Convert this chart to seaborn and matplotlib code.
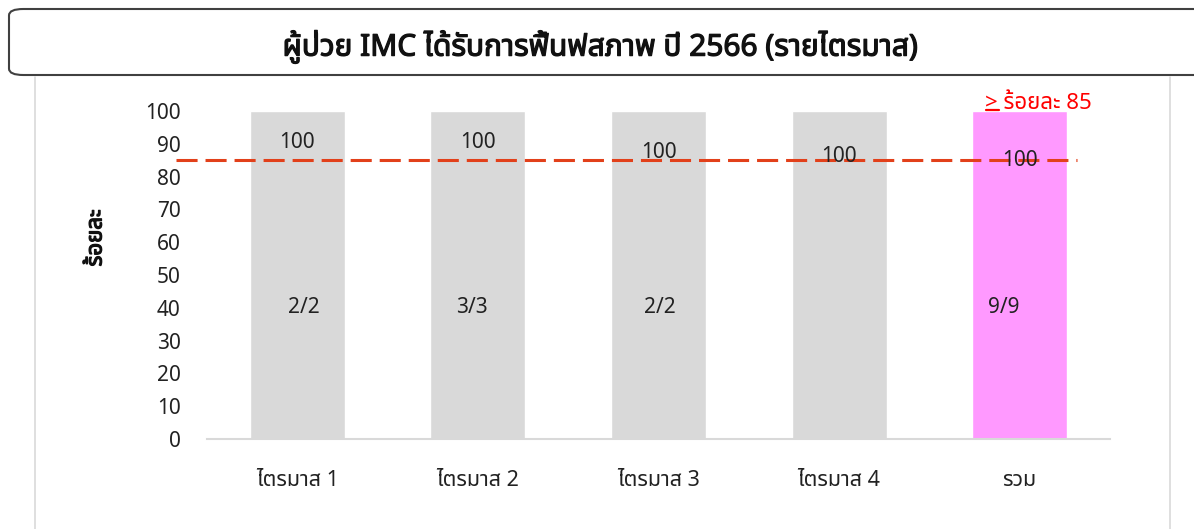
import matplotlib
matplotlib.use("Agg")
import matplotlib.pyplot as plt
import matplotlib.patheffects as pe
import seaborn as sns
import pandas as pd
from matplotlib import font_manager
from matplotlib.patches import FancyBboxPatch
from matplotlib.lines import Line2D
from fontTools.ttLib import TTFont

# ค่าข้อมูล
categories = ["ไตรมาส 1", "ไตรมาส 2", "ไตรมาส 3", "ไตรมาส 4", "รวม"]
percent = [100, 100, 100, 100, 100]
fractions = ["2/2", "3/3", "2/2", "", "9/9"]
target = 85
yticks = list(range(0, 101, 10))

# หาฟอนต์ที่มีอักษรไทย
thai_fonts = []
for f in font_manager.fontManager.ttflist:
    try:
        cmap = TTFont(f.fname, fontNumber=0, lazy=True).getBestCmap()
        if 0x0E01 in cmap and f.name not in thai_fonts:
            thai_fonts.append(f.name)
    except Exception:
        pass

preferred = ["Noto Sans Thai", "Noto Sans Thai UI", "IBM Plex Sans Thai", "Anuphan"]
chosen = [p for p in preferred if p in thai_fonts][:1] or thai_fonts[:1]

sns.set_theme(style="white")
plt.rcParams["font.family"] = chosen + ["DejaVu Sans"]

df = pd.DataFrame({"cat": categories, "pct": percent})

W, H = 1194, 529
fig = plt.figure(figsize=(W / 100, H / 100), dpi=100)
ax = fig.add_axes([207 / W, 1 - 439 / H, (1110 - 207) / W, (439 - 111) / H])

colors = ["#D9D9D9"] * 4 + ["#FF99FF"]
sns.barplot(data=df, x="cat", y="pct", hue="cat", palette=colors, legend=False,
            width=0.525, ax=ax, saturation=1)
ax.set_ylim(0, 100)
ax.set_xlim(-0.5, 4.5)
ax.set_yticks(yticks)
ax.tick_params(axis="y", labelsize=15, colors="#222222", length=0, pad=19)
ax.tick_params(axis="x", labelsize=15.5, colors="#222222", length=0, pad=22)
ax.set_xlabel("")
ax.set_ylabel("")
for s in ["top", "right", "left"]:
    ax.spines[s].set_visible(False)
ax.spines["bottom"].set_color("#D9D9D9")
ax.spines["bottom"].set_linewidth(1.5)

bold = [pe.withStroke(linewidth=0.9, foreground="#111111")]
fig.text(96 / W, 1 - 238 / H, "ร้อยละ", rotation=90, ha="center", va="center",
         fontsize=16, color="#111111", path_effects=bold)

# เส้นเป้าหมาย
ax.plot([-0.67, 4.32], [target, target], color="#E2401A", lw=2.2,
        dashes=(6.9, 2.6), clip_on=False, zorder=5)

label_y = [90.5, 90.5, 87.3, 86.0, 85.0]
frac_dx = [0.035, -0.035, 0.01, 0, -0.09]
for i, (v, fr) in enumerate(zip(percent, fractions)):
    ax.text(i, label_y[i], str(v), ha="center", va="center", fontsize=15, color="#222222", zorder=6)
    if fr:
        ax.text(i + frac_dx[i], 40, fr, ha="center", va="center", fontsize=15,
                color="#222222", zorder=6)

x0 = (985 - 207) / 180.6 - 0.5
ax.text(x0, 102.3, "> ร้อยละ 85", ha="left", va="center", fontsize=16, color="#FF0000",
        clip_on=False)
ax.plot([x0 + 0.005, x0 + 0.075], [100.4, 100.4], color="#FF0000", lw=1.6, clip_on=False)

# กรอบหัวเรื่อง
box = FancyBboxPatch((9 / W, 1 - 75 / H), 1200 / W, 66 / H,
                     boxstyle="round,pad=0,rounding_size=0.012", transform=fig.transFigure,
                     fc="white", ec="#404040", lw=1.5)
fig.add_artist(box)
fig.text(600 / W, 1 - 47 / H, "ผู้ป่วย IMC ได้รับการฟื้นฟสภาพ ปี 2566 (รายไตรมาส)",
         ha="center", va="center", fontsize=21.5, color="#111111", path_effects=bold)
fig.add_artist(Line2D([35 / W, 35 / W], [0, 1 - 77 / H], transform=fig.transFigure,
                      color="#D9D9D9", lw=1.2))
fig.add_artist(Line2D([1170 / W, 1170 / W], [0, 1 - 77 / H], transform=fig.transFigure,
                      color="#D9D9D9", lw=1.2))

fig.savefig("out.png", dpi=100)
